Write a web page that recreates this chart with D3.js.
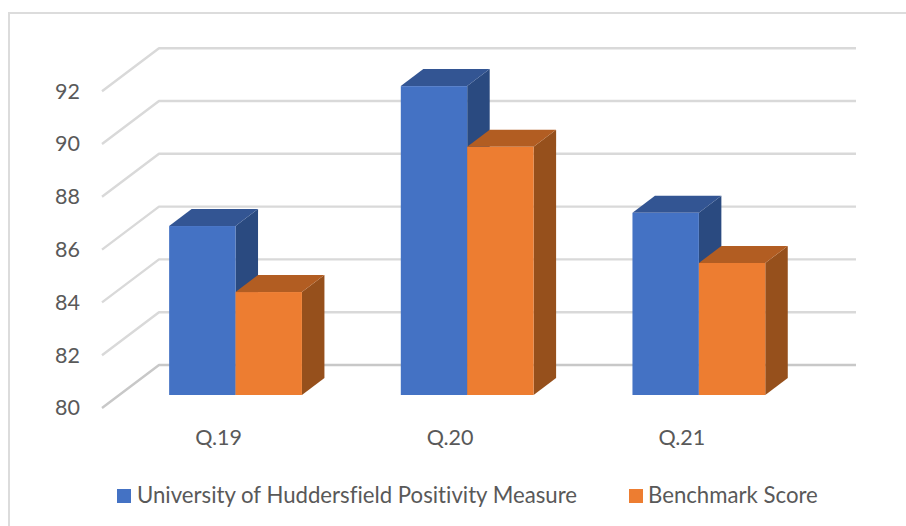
<!DOCTYPE html>
<html>
<head>
<meta charset="utf-8">
<script src="https://cdn.jsdelivr.net/npm/d3@7"></script>
<style>
  html, body { margin: 0; padding: 0; background: #fff; }
  svg { display: block; }
  text { font-family: Lato, "Open Sans", sans-serif; fill: #595959; font-variant-ligatures: none; }
</style>
</head>
<body>
<div id="chart"></div>
<script>
const categories = ['Q.19', 'Q.20', 'Q.21']
const seriesNames = ['University of Huddersfield Positivity Measure', 'Benchmark Score']
const huddersfield = [86.4, 91.7, 86.9]
const benchmark = [83.9, 89.4, 85.0]
const yTicks = [80, 82, 84, 86, 88, 90, 92]

let width = 906
let height = 526

let svg = d3.select('#chart').append('svg')
            .attr('width', width)
            .attr('height', height)

// chart frame, only top and left are visible in the crop
svg.append('path')
   .attr('d', `M9,526V13H906`)
   .attr('fill', 'none')
   .attr('stroke', '#dcdcdc')
   .attr('stroke-width', 2)

// front plane of the bars
let y = d3.scaleLinear().domain([80, 92]).range([395, 78.2])
let x0 = d3.scaleBand().domain(categories).range([119.7, 814.7])
let x1 = d3.scaleBand().domain([0, 1]).range([0, 132.8])

// offsets of the 3d projection
let wallDx = 57, wallDy = -43   // floor depth, front edge to back wall
let barDx = 22.5, barDy = -17   // bar depth
let backY = v => y(v) - 30

let grid = svg.append('g')
grid.selectAll('path')
    .data(yTicks)
    .enter().append('path')
    .attr('d', d => {
      let by = backY(d)
      return `M${159 - wallDx},${by - wallDy}L159,${by}H856`
    })
    .attr('fill', 'none')
    .attr('stroke', d => d == 80 ? '#c8c8c8' : '#d9d9d9')
    .attr('stroke-width', 2.4)
    .attr('stroke-linejoin', 'round')

let colors = [
  {front: '#4472c4', top: '#335593', side: '#2a4a80'},
  {front: '#ed7d31', top: '#b25d22', side: '#96501c'}
]

let bars = []
categories.forEach((c, i) => {
  bars.push({cat: c, s: 0, v: huddersfield[i]})
  bars.push({cat: c, s: 1, v: benchmark[i]})
})

let barG = svg.append('g')
let bar = barG.selectAll('g')
    .data(bars)
    .enter().append('g')

let bx = d => x0(d.cat) + (x0.bandwidth() - 132.8) / 2 + x1(d.s)
let bw = x1.bandwidth()

bar.append('path')   // side
   .attr('fill', d => colors[d.s].side)
   .attr('d', d => `M${bx(d) + bw},${y(d.v)}l${barDx},${barDy}V${y(80) + barDy}l${-barDx},${-barDy}Z`)
bar.append('path')   // top
   .attr('fill', d => colors[d.s].top)
   .attr('d', d => `M${bx(d)},${y(d.v)}l${barDx},${barDy}h${bw}l${-barDx},${-barDy}Z`)
bar.append('rect')   // front
   .attr('fill', d => colors[d.s].front)
   .attr('x', d => bx(d))
   .attr('y', d => y(d.v))
   .attr('width', bw)
   .attr('height', d => y(80) - y(d.v))

// axes, labels only
let yAxis = svg.append('g')
   .attr('transform', 'translate(92,13)')
   .call(d3.axisLeft(y).tickValues(yTicks).tickSize(0).tickPadding(12))
yAxis.select('.domain').remove()
yAxis.selectAll('text').style('font-size', '21.5px').style('font-family', 'Lato')

let xAxis = svg.append('g')
   .attr('transform', 'translate(-17,430)')
   .call(d3.axisBottom(x0).tickSize(0).tickPadding(0))
xAxis.select('.domain').remove()
xAxis.selectAll('text').style('font-size', '21.5px').style('font-family', 'Lato')

// legend
let legendItems = [
  {name: seriesNames[0], sx: 117, tx: 137, color: colors[0].front},
  {name: seriesNames[1], sx: 629, tx: 648, color: colors[1].front}
]
let legend = svg.append('g')
legend.selectAll('rect')
      .data(legendItems)
      .enter().append('rect')
      .attr('x', d => d.sx)
      .attr('y', 489)
      .attr('width', 14)
      .attr('height', 14)
      .attr('fill', d => d.color)
legend.selectAll('text')
      .data(legendItems)
      .enter().append('text')
      .attr('x', d => d.tx)
      .attr('y', 503)
      .style('font-size', '22.2px')
      .text(d => d.name)
</script>
</body>
</html>
